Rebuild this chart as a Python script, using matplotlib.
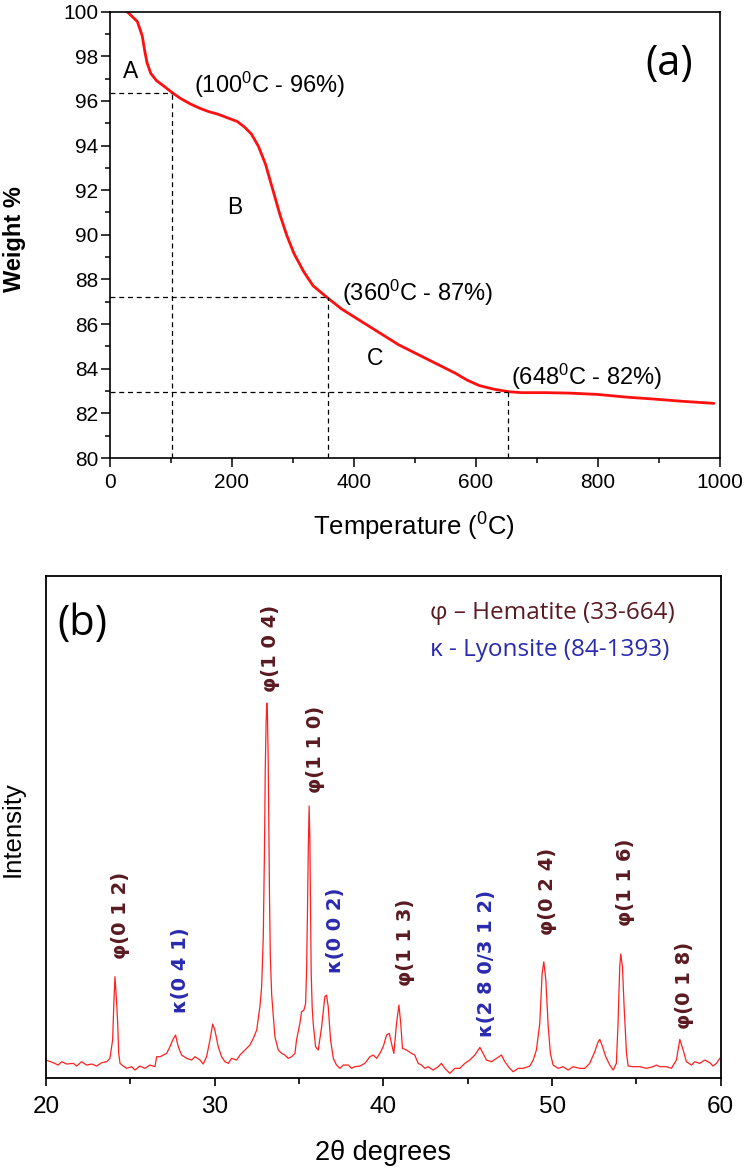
import matplotlib
matplotlib.use("Agg")
import matplotlib.pyplot as plt
from matplotlib.ticker import MultipleLocator

plt.rcParams['font.family'] = ['Liberation Sans', 'DejaVu Sans']
plt.rcParams['mathtext.fontset'] = 'custom'
plt.rcParams['mathtext.rm'] = 'Liberation Sans'
plt.rcParams['mathtext.default'] = 'regular'

# ---------------- (a) TGA data ----------------
temperature = [28, 45, 52.9, 56.8, 60.7, 66.9, 76.2, 87.9, 101, 115, 130.6, 146.2, 161.7,
               177.3, 192.8, 208.4, 220, 231.7, 243.4, 255, 266.7, 278.4, 290, 301.7,
               317.3, 332.8, 356.1, 379.5, 402.8, 426.1, 449.5, 472.8, 496.1, 519.4,
               542.8, 566.1, 585.5, 605, 628.3, 654, 675, 713.8, 752.7, 799.4, 846,
               892.7, 939.3, 989.9]
weight = [100, 99.55, 98.91, 98.27, 97.71, 97.23, 96.91, 96.67, 96.39, 96.12, 95.88, 95.68,
          95.52, 95.40, 95.24, 95.08, 94.84, 94.52, 93.96, 93.16, 92.04, 90.92, 89.96,
          89.16, 88.36, 87.72, 87.19, 86.68, 86.28, 85.88, 85.48, 85.08, 84.76, 84.44,
          84.12, 83.80, 83.49, 83.25, 83.09, 82.97, 82.93, 82.93, 82.91, 82.85, 82.73,
          82.64, 82.54, 82.45]

marker_temps = [101, 357, 653]
marker_weights = [96.37, 87.21, 82.95]
marker_texts = ['(100$^0$C - 96%)', '(360$^0$C - 87%)', '(648$^0$C - 82%)']
marker_text_pos = [(137, 96.7), (381, 87.4), (658, 83.65)]
stage_labels = ['A', 'B', 'C']
stage_pos = [(33, 97.3), (204, 91.24), (434, 84.44)]

# ---------------- (b) XRD data ----------------
two_theta = [20.00, 20.43, 20.73, 20.93, 21.22, 21.62, 21.82, 22.11, 22.41, 22.71, 23.00, 23.30,
             23.60, 23.79, 23.95, 24.03, 24.09, 24.15, 24.19, 24.25, 24.31, 24.39, 24.58, 24.78,
             25.08, 25.27, 25.57, 25.87, 26.16, 26.46, 26.56, 26.76, 26.95, 27.15, 27.35, 27.51,
             27.68, 27.84, 28.04, 28.34, 28.63, 28.83, 29.13, 29.32, 29.52, 29.72, 29.88, 30.01,
             30.21, 30.41, 30.61, 30.81, 31.00, 31.30, 31.50, 31.79, 32.09, 32.29, 32.49, 32.68,
             32.78, 32.88, 32.95, 33.00, 33.05, 33.09, 33.13, 33.17, 33.21, 33.25, 33.30, 33.38,
             33.47, 33.57, 33.77, 33.97, 34.16, 34.36, 34.56, 34.76, 34.85, 35.05, 35.15, 35.29,
             35.39, 35.45, 35.50, 35.55, 35.60, 35.64, 35.68, 35.72, 35.78, 35.84, 35.98, 36.14,
             36.34, 36.53, 36.63, 36.73, 36.87, 37.03, 37.22, 37.42, 37.62, 37.92, 38.11, 38.31,
             38.61, 38.90, 39.20, 39.40, 39.60, 39.79, 39.99, 40.19, 40.35, 40.48, 40.62, 40.78,
             40.92, 41.03, 41.13, 41.37, 41.67, 41.86, 42.06, 42.26, 42.46, 42.65, 42.95, 43.25,
             43.44, 43.64, 43.94, 44.23, 44.53, 44.83, 45.12, 45.42, 45.72, 45.91, 46.11, 46.41,
             46.70, 47.00, 47.20, 47.49, 47.69, 47.99, 48.28, 48.68, 48.88, 49.07, 49.27, 49.41,
             49.51, 49.63, 49.77, 49.90, 50.06, 50.36, 50.65, 50.95, 51.25, 51.64, 51.94, 52.23,
             52.53, 52.73, 52.83, 52.99, 53.18, 53.42, 53.62, 53.81, 53.91, 54.01, 54.07, 54.17,
             54.27, 54.41, 54.51, 54.80, 55.20, 55.59, 55.99, 56.19, 56.38, 56.78, 57.07, 57.37,
             57.57, 57.77, 57.96, 58.26, 58.46, 58.75, 59.05, 59.35, 59.54, 59.74, 59.94]
intensity = [3.59, 3.05, 2.59, 3.25, 2.79, 2.92, 2.39, 3.25, 2.59, 2.79, 2.39, 3.05,
             3.25, 3.92, 7.57, 15.54, 20.19, 16.87, 14.87, 10.89, 4.91, 2.92, 2.39, 1.93,
             2.26, 1.59, 2.39, 1.93, 2.59, 2.26, 4.25, 4.25, 4.58, 4.91, 6.24, 7.57,
             8.57, 6.24, 4.58, 3.92, 3.59, 4.25, 3.59, 2.79, 4.25, 7.57, 10.76, 9.56,
             6.24, 4.25, 3.25, 2.92, 3.92, 3.59, 4.58, 5.58, 6.57, 7.90, 9.56, 14.21,
             18.0, 28.0, 45.0, 62.0, 71.0, 74.7, 72.0, 64.0, 50.0, 36.0, 24.0, 16.5,
             12.5, 8.23, 5.58, 4.91, 4.58, 3.92, 4.25, 4.91, 7.57, 10.89, 13.21, 13.55,
             14.87, 22.0, 33.0, 46.0, 54.2, 48.0, 34.0, 21.0, 14.0, 10.89, 6.24, 5.58,
             10.23, 16.2, 16.53, 14.21, 7.57, 3.92, 2.59, 1.93, 2.59, 2.59, 1.93, 2.26,
             2.39, 2.92, 4.25, 4.58, 3.92, 4.91, 6.24, 8.57, 8.90, 6.91, 4.91, 10.89,
             14.54, 10.89, 5.91, 5.58, 4.91, 4.58, 2.92, 2.59, 1.93, 2.26, 1.59, 2.26,
             2.92, 1.93, 0.93, 1.93, 1.93, 2.92, 3.59, 4.58, 6.11, 4.91, 3.59, 3.25,
             3.92, 4.58, 3.25, 1.93, 1.26, 1.93, 1.93, 2.39, 3.59, 5.58, 10.89, 20.85,
             23.17, 19.52, 10.23, 4.91, 2.59, 1.93, 2.26, 1.59, 2.26, 1.93, 1.93, 2.92,
             5.25, 7.24, 7.70, 6.24, 4.25, 2.59, 1.59, 2.92, 10.89, 22.18, 24.70, 22.18,
             14.21, 4.91, 2.39, 2.26, 2.26, 1.93, 2.26, 2.59, 2.26, 2.26, 1.93, 3.59,
             7.70, 5.58, 3.25, 2.59, 3.25, 2.92, 3.59, 3.05, 2.39, 2.92, 3.92]

peak_labels = ['φ(0 1 2)', 'κ(0 4 1)', 'φ(1 0 4)', 'φ(1 1 0)', 'κ(0 0 2)', 'φ(1 1 3)',
               'κ(2 8 0/3 1 2)', 'φ(0 2 4)', 'φ(1 1 6)', 'φ(0 1 8)']
peak_label_x = [24.44, 27.95, 33.30, 35.97, 37.17, 41.31, 46.09, 49.74, 54.38, 57.84]
peak_label_y = [23.7, 13.0, 76.9, 56.8, 21.0, 18.3, 8.25, 28.4, 30.3, 9.8]
peak_phase = ['h', 'k', 'h', 'h', 'k', 'h', 'k', 'h', 'h', 'h']

legend_texts = ['φ – Hematite (33-664)', 'κ - Lyonsite (84-1393)']
legend_pos = [(42.76, 92.7), (42.76, 85.3)]

hem_color = '#5a1a22'
lyo_color = '#2a2ab0'
phase_color = {'h': hem_color, 'k': lyo_color}

fig = plt.figure(figsize=(7.44, 11.70), dpi=100)

# ---------------- panel (a) ----------------
ax1 = fig.add_axes([0.1478, 0.6085, 0.820, 0.3816])
ax1.plot(temperature, weight, color='#ff1010', lw=2.0, solid_capstyle='round')
for t, w in zip(marker_temps, marker_weights):
    ax1.plot([0, t], [w, w], color='black', lw=0.9, ls=(0, (4, 3)))
    ax1.plot([t, t], [80, w], color='black', lw=0.9, ls=(0, (4, 3)))
for txt, (x, y) in zip(marker_texts, marker_text_pos):
    ax1.text(x, y, txt, fontsize=17, ha='left', va='center')
for txt, (x, y) in zip(stage_labels, stage_pos):
    ax1.text(x, y, txt, fontsize=16.5, ha='center', va='center')
ax1.text(917, 97.63, '(a)', fontsize=30, ha='center', va='center',
         family=['Open Sans', 'DejaVu Sans'])
ax1.set_xlim(0, 1000)
ax1.set_ylim(80, 100)
ax1.xaxis.set_major_locator(MultipleLocator(200))
ax1.xaxis.set_minor_locator(MultipleLocator(100))
ax1.yaxis.set_major_locator(MultipleLocator(2))
ax1.yaxis.set_minor_locator(MultipleLocator(1))
ax1.tick_params(which='both', direction='out', top=False, right=False, width=1.1)
ax1.tick_params(which='major', length=6.5, labelsize=15)
ax1.tick_params(which='minor', length=3.5)
ax1.tick_params(axis='x', which='major', pad=4)
ax1.tick_params(axis='y', which='major', pad=2)
for s in ax1.spines.values():
    s.set_linewidth(1.2)
ax1.set_xlabel('Temperature ($^0$C)', fontsize=18.5)
ax1.xaxis.label.set_verticalalignment('center')
ax1.xaxis.set_label_coords(0.498, -0.1545)
ax1.set_ylabel('Weight %', fontsize=17, fontweight='bold')
ax1.yaxis.label.set_verticalalignment('center')
ax1.yaxis.set_label_coords(-0.1566, 0.49)

# ---------------- panel (b) ----------------
ax2 = fig.add_axes([0.0618, 0.0786, 0.907, 0.429])
ax2.plot(two_theta, intensity, color='#ff2020', lw=0.9)
for lab, x, y, ph in zip(peak_labels, peak_label_x, peak_label_y, peak_phase):
    ax2.text(x, y, lab, rotation=90, fontsize=14, fontweight='bold', ha='center',
             va='bottom', color=phase_color[ph], family=['DejaVu Sans'])
for txt, (x, y), col in zip(legend_texts, legend_pos, [hem_color, lyo_color]):
    ax2.text(x, y, txt, fontsize=17.5, ha='left', va='center', color=col,
             family=['Open Sans', 'DejaVu Sans'])
ax2.text(22.13, 90.4, '(b)', fontsize=30, ha='center', va='center',
         family=['Open Sans', 'DejaVu Sans'])
ax2.set_xlim(20, 60)
ax2.set_ylim(0, 100)
ax2.xaxis.set_major_locator(MultipleLocator(10))
ax2.xaxis.set_minor_locator(MultipleLocator(5))
ax2.set_yticks([])
ax2.tick_params(which='both', direction='out', top=False, right=False, width=1.2)
ax2.tick_params(which='major', length=6, labelsize=17.5, pad=7)
ax2.tick_params(which='minor', length=4)
for s in ax2.spines.values():
    s.set_linewidth(1.3)
ax2.set_xlabel('2θ degrees', fontsize=19.5)
ax2.xaxis.label.set_verticalalignment('center')
ax2.xaxis.set_label_coords(0.5, -0.149)
ax2.set_ylabel('Intensity', fontsize=18.5)
ax2.yaxis.label.set_verticalalignment('center')
ax2.yaxis.set_label_coords(-0.049, 0.496)

fig.savefig('out.png', dpi=100)
